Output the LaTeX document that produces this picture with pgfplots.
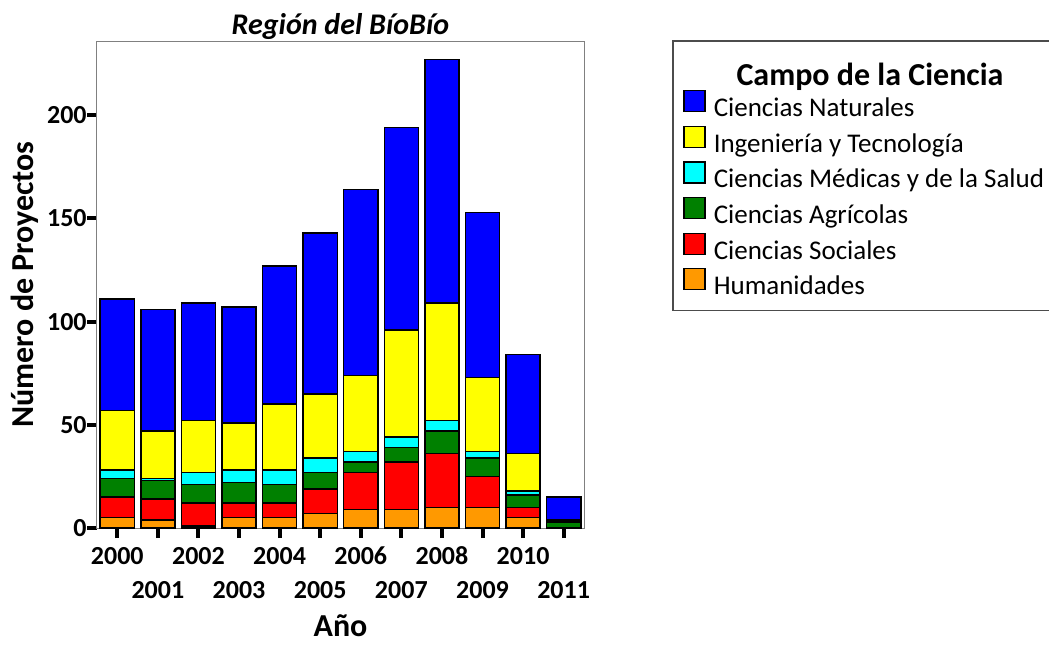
\documentclass[border=0pt]{standalone}
\usepackage{fontspec}
\setmainfont{Carlito}
\usepackage{pgfplots}
\pgfplotsset{compat=1.18}
\definecolor{cNat}{RGB}{0,0,255}
\definecolor{cIng}{RGB}{255,255,0}
\definecolor{cMed}{RGB}{0,255,255}
\definecolor{cAgr}{RGB}{0,128,0}
\definecolor{cSoc}{RGB}{255,0,0}
\definecolor{cHum}{RGB}{255,153,0}
\newcommand\low[1]{\raisebox{-17pt}[\height][0pt]{#1}}
\pgfplotsset{mylegend/.style={legend image code/.code={%
  \draw[##1,draw=black,line width=0.6pt] (0pt,-1pt) rectangle (10.5pt,9.5pt);
  \path (14.5pt,0pt);}}}
\begin{document}
\begin{tikzpicture}
\path[use as bounding box] (-48.5pt,-58pt) rectangle (476pt,264pt);
\begin{axis}[
  at={(0,0)}, anchor=south west,
  scale only axis, width=243.5pt, height=243.5pt,
  ybar stacked, bar width=0.84,
  xmin=1999.5, xmax=2011.5, ymin=0, ymax=236,
  xtick={2000,...,2011},
  xticklabels={2000,\low{2001},2002,\low{2003},2004,\low{2005},2006,\low{2007},2008,\low{2009},2010,\low{2011}},
  ytick={0,50,100,150,200},
  tick align=outside, xtick pos=bottom, ytick pos=left,
  major tick length=5pt,
  tick style={black, line width=2pt},
  axis line style={draw=gray, line width=0.5pt},
  ticklabel style={font=\fontsize{13}{15}\selectfont\bfseries},
  /pgf/number format/assume math mode=true,
  xticklabel style={anchor=base, inner sep=0pt, yshift=-13pt},
  yticklabel style={anchor=east, inner sep=0pt, xshift=0pt},
  title={Región del BíoBío},
  title style={font=\fontsize{15}{18}\selectfont\bfseries\itshape, at={(0.5,1)}, anchor=base, yshift=-2.5pt},
  xlabel={Año},
  xlabel style={font=\fontsize{16}{19}\selectfont\bfseries, at={(axis description cs:0.5,0)}, anchor=base, yshift=-54pt},
  ylabel={Número de Proyectos},
  ylabel style={font=\fontsize{16}{19}\selectfont\bfseries, at={(axis description cs:-0.148,0.5)}, anchor=center},
  every axis plot/.append style={draw=black, line width=0.75pt},
  reverse legend,
  legend style={at={(rel axis cs:1.2033,0.900)}, anchor=north west, draw=none, fill=none,
    inner sep=0pt, row sep=2.5pt, font=\fontsize{13.5}{16}\selectfont,
    nodes={inner sep=0pt, text height=9pt, text depth=2pt}},
  legend cell align=left,
]
% Humanidades
\addplot[fill=cHum, mylegend] coordinates {(2000,5) (2001,4) (2002,1) (2003,5) (2004,5) (2005,7) (2006,9) (2007,9) (2008,10) (2009,10) (2010,5) (2011,0)};
% Ciencias Sociales
\addplot[fill=cSoc, mylegend] coordinates {(2000,10) (2001,10) (2002,11) (2003,7) (2004,7) (2005,12) (2006,18) (2007,23) (2008,26) (2009,15) (2010,5) (2011,0)};
% Ciencias Agricolas
\addplot[fill=cAgr, mylegend] coordinates {(2000,9) (2001,9) (2002,9) (2003,10) (2004,9) (2005,8) (2006,5) (2007,7) (2008,11) (2009,9) (2010,6) (2011,3)};
% Ciencias Medicas
\addplot[fill=cMed, mylegend] coordinates {(2000,4) (2001,1) (2002,6) (2003,6) (2004,7) (2005,7) (2006,5) (2007,5) (2008,5) (2009,3) (2010,2) (2011,0)};
% Ingenieria
\addplot[fill=cIng, mylegend] coordinates {(2000,29) (2001,23) (2002,25) (2003,23) (2004,32) (2005,31) (2006,37) (2007,52) (2008,57) (2009,36) (2010,18) (2011,1)};
% Ciencias Naturales
\addplot[fill=cNat, mylegend] coordinates {(2000,54) (2001,59) (2002,57) (2003,56) (2004,67) (2005,78) (2006,90) (2007,98) (2008,118) (2009,80) (2010,48) (2011,11)};
\legend{Humanidades, Ciencias Sociales, Ciencias Agrícolas, Ciencias Médicas y de la Salud, Ingeniería y Tecnología, Ciencias Naturales}
\end{axis}
\draw[gray!60!black, line width=0.6pt] (288pt,243.5pt) rectangle (500pt,108.65pt);
\node[anchor=base, font=\fontsize{16}{19}\selectfont\bfseries, inner sep=0pt] at (386.5pt,221.5pt) {Campo de la Ciencia};
\end{tikzpicture}
\end{document}
